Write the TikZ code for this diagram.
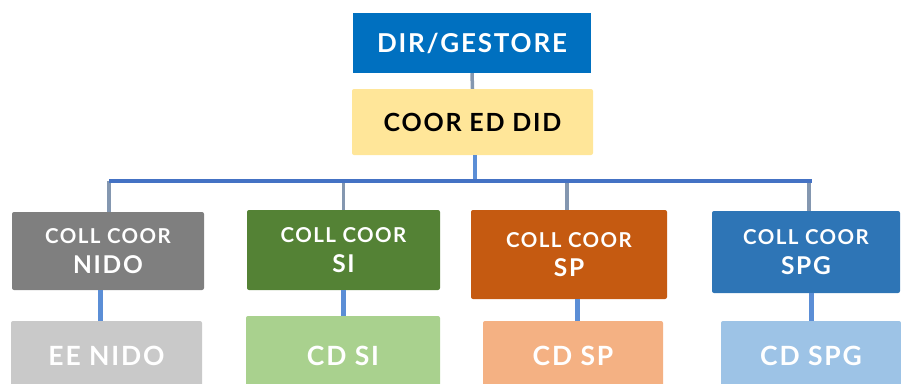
\documentclass[tikz,border=0pt]{standalone}
\usepackage{fontspec}
\newfontfamily\boxfont[LetterSpace=7]{Lato}
\definecolor{dirblue}{HTML}{0070C0}
\definecolor{coorfill}{HTML}{FFE699}
\definecolor{gconn}{HTML}{8497B0}
\definecolor{busblue}{HTML}{4472C4}
\definecolor{lowblue}{HTML}{5B8ED6}
\definecolor{nidofill}{HTML}{7F7F7F}
\definecolor{sifill}{HTML}{548235}
\definecolor{spfill}{HTML}{C55A11}
\definecolor{spgfill}{HTML}{2E75B6}
\definecolor{eefill}{HTML}{C9C9C9}
\definecolor{cdsifill}{HTML}{A9D18E}
\definecolor{cdspfill}{HTML}{F4B183}
\definecolor{cdspgfill}{HTML}{9DC3E6}
\tikzset{
  box/.style={rectangle, rounded corners=2pt, inner sep=0pt, align=center, text=white,
    font=\boxfont\bfseries},
  twoline/.style={box, font=\boxfont\bfseries\fontsize{20.5}{29.5}\selectfont},
  graylink/.style={draw=gconn, line width=3.5pt},
  buslink/.style={draw=busblue, line width=4pt},
  lowlink/.style={draw=lowblue, line width=5pt},
}
\newcommand{\bigline}[1]{{\fontsize{24.5}{29.5}\selectfont #1}}
\begin{document}
\begin{tikzpicture}[x=1pt,y=-1pt]
\useasboundingbox (0,0) rectangle (901,383);
\clip (0,0) rectangle (901,383);
% top
\node[box, rounded corners=0pt, fill=dirblue, minimum width=238pt, minimum height=60pt,
  font=\boxfont\bfseries\fontsize{26}{30}\selectfont] (dir) at (472,43) {DIR/GESTORE};
\node[box, fill=coorfill, text=black, minimum width=241pt, minimum height=66pt,
  font=\boxfont\bfseries\fontsize{25}{30}\selectfont] (coor) at (472.5,122) {COOR ED DID};
% level 2
\node[twoline, fill=nidofill, minimum width=192pt, minimum height=78pt] (nido) at (108,251)
  {COLL COOR\\\bigline{NIDO}};
\node[twoline, fill=sifill, minimum width=193pt, minimum height=80pt] (si) at (343.5,250)
  {COLL COOR\\\bigline{SI}};
\node[twoline, fill=spfill, minimum width=196pt, minimum height=89pt] (sp) at (569,254.5)
  {COLL COOR\\\bigline{SP}};
\node[twoline, fill=spgfill, minimum width=188pt, minimum height=82pt] (spg) at (806,252)
  {COLL COOR\\\bigline{SPG}};
% level 3
\tikzset{low/.style={box, font=\boxfont\bfseries\fontsize{26.5}{30}\selectfont}}
\node[low, fill=eefill, minimum width=191pt, minimum height=70pt] (ee) at (106.5,356) {EE NIDO};
\node[low, fill=cdsifill, minimum width=194pt, minimum height=80pt] (cdsi) at (343,356) {CD SI};
\node[low, fill=cdspfill, minimum width=180pt, minimum height=70pt] (cdsp) at (573,356) {CD SP};
\node[low, fill=cdspgfill, minimum width=180pt, minimum height=70pt] (cdspg) at (811,356) {CD SPG};
% connectors
\coordinate (busL) at (109,181);
\coordinate (busR) at (812,181);
\draw[graylink] (dir.south) -- (coor.north);
\draw[lowlink, line width=4pt] ([xshift=2.5pt]coor.south) -- ([xshift=2.5pt]coor.south |- busL);
\draw[graylink] ([xshift=1pt]nido.north |- busL) -- ([xshift=1pt]nido.north);
\draw[graylink] (si.north |- busL) -- (si.north);
\draw[graylink] ([xshift=-2pt]sp.north |- busL) -- ([xshift=-2pt]sp.north);
\draw[graylink] ([xshift=3pt]spg.north |- busL) -- ([xshift=3pt]spg.north);
\draw[buslink] (busL) -- (busR);
\draw[lowlink] ([xshift=-8pt]nido.south) -- ([xshift=-8pt]nido.south |- ee.north);
\draw[lowlink] (si.south) -- (si.south |- cdsi.north);
\draw[lowlink] ([xshift=8pt]sp.south) -- ([xshift=8pt]sp.south |- cdsp.north);
\draw[lowlink] ([xshift=5pt]spg.south) -- ([xshift=5pt]spg.south |- cdspg.north);
\end{tikzpicture}
\end{document}
